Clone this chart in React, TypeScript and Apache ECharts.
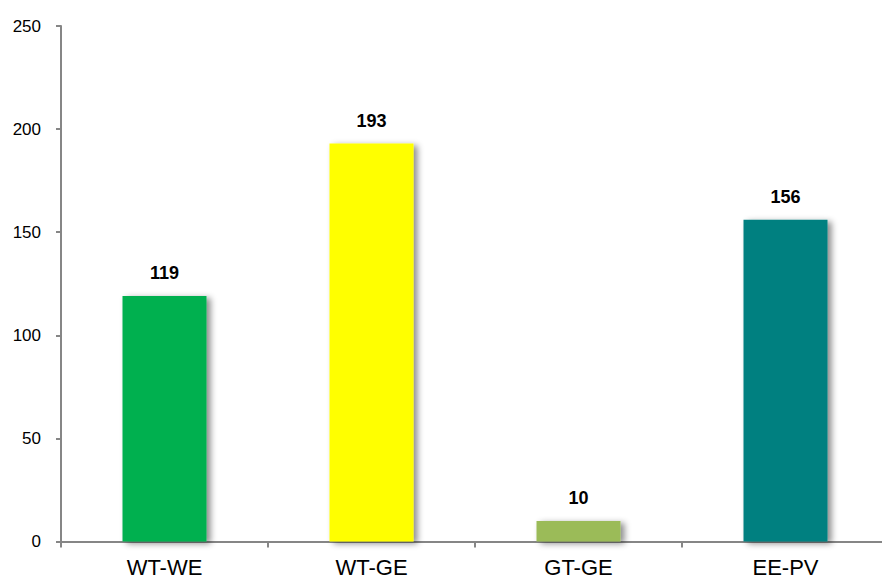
import React, { useEffect, useRef } from "react";
import * as echarts from "echarts";

const categories = ["WT-WE", "WT-GE", "GT-GE", "EE-PV"];
const values = [119, 193, 10, 156];
const barColors = ["#00B050", "#FFFF00", "#9BBB59", "#008080"];
const yTicks = { min: 0, max: 250, interval: 50 };

const axisGray = "#868686";

export default function App() {
  const ref = useRef<HTMLDivElement>(null);

  useEffect(() => {
    if (!ref.current) return;
    const chart = echarts.init(ref.current, null, { renderer: "svg" });
    chart.setOption({
      animation: false,
      backgroundColor: "#ffffff",
      // the plot area runs slightly past the visible right edge
      grid: { left: 61, right: 0, top: 26, bottom: 44.5, containLabel: false },
      xAxis: {
        type: "category",
        data: categories,
        axisLine: { show: true, lineStyle: { color: axisGray, width: 2 } },
        axisTick: { show: true, alignWithLabel: false, length: 6, lineStyle: { color: axisGray, width: 2 } },
        axisLabel: {
          color: "#000",
          fontFamily: "'Liberation Sans', Arial, sans-serif",
          fontSize: 22,
          margin: 15,
        },
        splitLine: { show: false },
      },
      yAxis: {
        type: "value",
        min: yTicks.min,
        max: yTicks.max,
        interval: yTicks.interval,
        axisLine: { show: true, lineStyle: { color: axisGray, width: 2 } },
        axisTick: { show: true, length: 5, lineStyle: { color: axisGray, width: 2 } },
        axisLabel: {
          color: "#000",
          fontFamily: "'Liberation Sans', Arial, sans-serif",
          fontSize: 17,
          margin: 20,
        },
        splitLine: { show: false },
      },
      series: [
        {
          type: "bar",
          barWidth: 84,
          data: values.map((v, i) => ({
            value: v,
            itemStyle: {
              color: barColors[i],
              shadowColor: "rgba(0,0,0,0.45)",
              shadowBlur: 6,
              shadowOffsetX: 4,
              shadowOffsetY: 2,
            },
          })),
          label: {
            show: true,
            position: "top",
            distance: 14,
            color: "#000",
            fontWeight: "bold",
            fontSize: 18,
            fontFamily: "'Liberation Sans', Arial, sans-serif",
          },
        },
      ],
    });
    return () => chart.dispose();
  }, []);

  return (
    <div style={{ width: 882, height: 586, position: "absolute", left: 0, top: 0, overflow: "hidden", background: "#fff" }}>
      <div ref={ref} style={{ width: 889, height: 586 }} />
    </div>
  );
}
